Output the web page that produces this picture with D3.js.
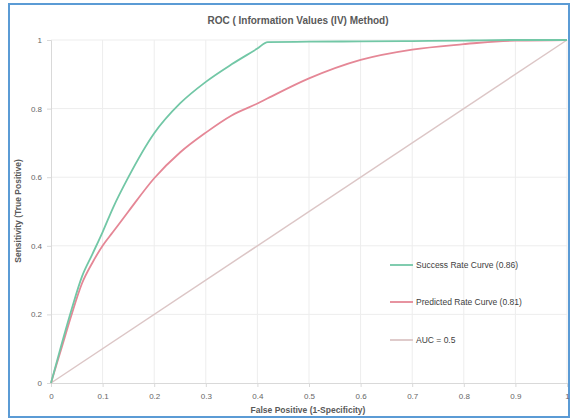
<!DOCTYPE html>
<html>
<head>
<meta charset="utf-8">
<script src="https://cdn.jsdelivr.net/npm/d3@7"></script>
<style>
  html, body { margin: 0; padding: 0; background: #fff; }
  svg { display: block; }
  text { font-family: "Liberation Sans", Arial, sans-serif; }
</style>
</head>
<body>
<svg id="chart" width="571" height="419"></svg>
<script>
// False positive rate sample points shared by both ROC curves
const fpr = [0, 0.02, 0.04, 0.06, 0.08, 0.10, 0.12, 0.15, 0.20, 0.25, 0.30, 0.35, 0.40, 0.42, 0.50, 0.60, 0.70, 0.80, 0.83, 0.90, 1.00];
// Sensitivity of the success rate curve (AUC 0.86)
const successRate = [0, 0.11, 0.215, 0.31, 0.375, 0.44, 0.51, 0.60, 0.728, 0.815, 0.878, 0.929, 0.975, 0.994, 0.995, 0.996, 0.997, 0.998, 0.999, 1.0, 1.0];
// Sensitivity of the predicted rate curve (AUC 0.81)
const predictedRate = [0, 0.10, 0.2, 0.29, 0.35, 0.40, 0.44, 0.50, 0.597, 0.672, 0.73, 0.78, 0.815, 0.83, 0.888, 0.942, 0.972, 0.988, 0.992, 0.998, 1.0];
// Random-classifier reference line
const chanceX = [0, 1];
const chanceY = [0, 1];

const xTicks = [0, 0.1, 0.2, 0.3, 0.4, 0.5, 0.6, 0.7, 0.8, 0.9, 1];
const yTicks = [0, 0.2, 0.4, 0.6, 0.8, 1];

const seriesNames = ["Success Rate Curve (0.86)", "Predicted Rate Curve (0.81)", "AUC = 0.5"];
const seriesColors = ["#72c7a6", "#e58796", "#dcc6c6"];

const titleText = "ROC ( Information Values (IV) Method)";
const xTitle = "False Positive (1-Specificity)";
const yTitle = "Sensitivity (True Positive)";

const svg = d3.select("#chart");
const plot = { left: 51, right: 567, top: 40, bottom: 383 };

const x = d3.scaleLinear().domain([0, 1]).range([plot.left, plot.right]);
const y = d3.scaleLinear().domain([0, 1]).range([plot.bottom, plot.top]);

// Frame
svg.append("rect")
  .attr("x", 9).attr("y", 4).attr("width", 560).attr("height", 413)
  .attr("fill", "#fff").attr("stroke", "#5b9bd5").attr("stroke-width", 2);

// Gridlines
const grid = svg.append("g");
grid.selectAll("line.v").data(xTicks.slice(1)).join("line")
  .attr("x1", d => x(d)).attr("x2", d => x(d))
  .attr("y1", plot.top).attr("y2", plot.bottom)
  .attr("stroke", "#ededed").attr("stroke-width", 1);
grid.selectAll("line.h").data(yTicks.slice(1)).join("line")
  .attr("x1", plot.left).attr("x2", plot.right)
  .attr("y1", d => y(d)).attr("y2", d => y(d))
  .attr("stroke", "#ededed").attr("stroke-width", 1);

// Axes
const xAxis = d3.axisBottom(x).tickValues(xTicks).tickFormat(d3.format("~g")).tickSize(4).tickPadding(6);
const yAxis = d3.axisLeft(y).tickValues(yTicks).tickFormat(d3.format("~g")).tickSize(4).tickPadding(5);

const gx = svg.append("g").attr("transform", `translate(0,${plot.bottom})`).call(xAxis);
const gy = svg.append("g").attr("transform", `translate(${plot.left},0)`).call(yAxis);
[gx, gy].forEach(g => {
  g.select(".domain").attr("stroke", "#d9d9d9");
  g.selectAll(".tick line").attr("stroke", "#d9d9d9");
  g.selectAll(".tick text").attr("fill", "#666").attr("font-size", 8)
    .style("font-family", "'Liberation Sans', Arial, sans-serif");
});

// Lines
const line = d3.line().x(d => x(d[0])).y(d => y(d[1])).curve(d3.curveMonotoneX);
const straight = d3.line().x(d => x(d[0])).y(d => y(d[1]));

svg.append("path")
  .datum(d3.zip(chanceX, chanceY))
  .attr("d", straight).attr("fill", "none")
  .attr("stroke", seriesColors[2]).attr("stroke-width", 1.5);

svg.append("path")
  .datum(d3.zip(fpr, predictedRate))
  .attr("d", line).attr("fill", "none")
  .attr("stroke", seriesColors[1]).attr("stroke-width", 1.8);

svg.append("path")
  .datum(d3.zip(fpr, successRate))
  .attr("d", line).attr("fill", "none")
  .attr("stroke", seriesColors[0]).attr("stroke-width", 1.8);

// Title
svg.append("text")
  .attr("x", 298).attr("y", 24)
  .attr("text-anchor", "middle")
  .attr("font-size", 10).attr("font-weight", "bold").attr("fill", "#595959")
  .text(titleText);

// Axis titles
svg.append("text")
  .attr("x", 308).attr("y", 413)
  .attr("text-anchor", "middle")
  .attr("font-size", 8.5).attr("font-weight", "bold").attr("fill", "#595959")
  .text(xTitle);

svg.append("text")
  .attr("transform", "translate(21,211) rotate(-90)")
  .attr("text-anchor", "middle")
  .attr("font-size", 8.5).attr("font-weight", "bold").attr("fill", "#595959")
  .text(yTitle);

// Legend
const legendY = [265, 302, 340];
const legend = svg.append("g");
seriesNames.forEach((name, i) => {
  legend.append("line")
    .attr("x1", 390).attr("x2", 413)
    .attr("y1", legendY[i]).attr("y2", legendY[i])
    .attr("stroke", seriesColors[i]).attr("stroke-width", 1.8);
  legend.append("text")
    .attr("x", 416).attr("y", legendY[i] + 3)
    .attr("font-size", 8.5).attr("fill", "#404040")
    .text(name);
});
</script>
</body>
</html>
